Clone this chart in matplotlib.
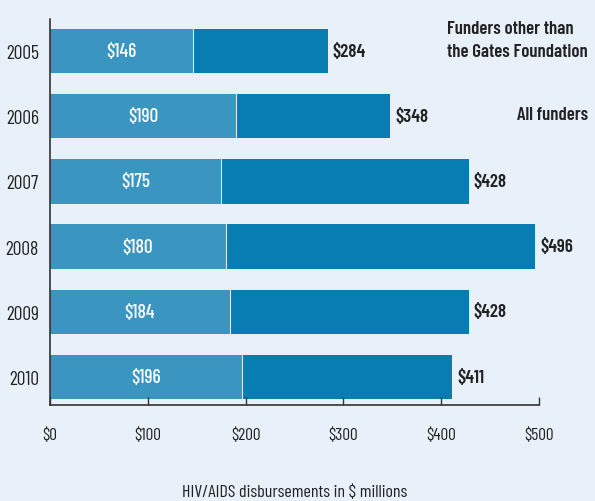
import numpy as np
import matplotlib.pyplot as plt
from matplotlib import font_manager

names = {f.name for f in font_manager.fontManager.ttflist}
fam = 'Barlow Condensed' if 'Barlow Condensed' in names else 'DejaVu Sans'
plt.rcParams['font.family'] = [fam, 'DejaVu Sans']
if fam == 'DejaVu Sans':
    plt.rcParams['font.stretch'] = 'condensed'

years = ['2005', '2006', '2007', '2008', '2009', '2010']
other_funders = [146, 190, 175, 180, 184, 196]
all_funders = [284, 348, 428, 496, 428, 411]

bg = '#e8f1f9'
light = '#3a95c1'
dark = '#077db1'
txt = '#222222'
fs = 14

fig = plt.figure(figsize=(5.95, 5.02), dpi=100, facecolor=bg)
ax = fig.add_axes([0.084, 0.191, 0.822, 0.769], facecolor=bg)

pos = np.arange(len(years))
h = 0.68
ax.barh(pos, all_funders, height=h, color=dark, edgecolor='none')
ax.barh(pos, other_funders, height=h, color=light, edgecolor='none')
for p, v in zip(pos, other_funders):
    ax.plot([v, v], [p - h / 2, p + h / 2], color='#d8e8f2', lw=0.8)
    ax.text(v / 2, p, '$%d' % v, color='white', ha='center', va='center', fontsize=fs, fontweight='medium')
for p, v in zip(pos, all_funders):
    ax.text(v + 5, p, '$%d' % v, color=txt, ha='left', va='center', fontsize=13.5, fontweight='semibold')

ax.set_xlim(0, 500)
ax.set_ylim(5.43, -0.49)
ax.set_yticks(pos)
ax.set_yticklabels(years, fontsize=fs, color=txt)
ax.tick_params(axis='y', length=0, pad=8)
ax.set_xticks(np.arange(0, 501, 100))
ax.set_xticklabels(['$%d' % t for t in range(0, 501, 100)], fontsize=12.5, color=txt)
ax.tick_params(axis='x', direction='in', length=6, width=1, color='#333333', pad=15)
for s in ['top', 'right']:
    ax.spines[s].set_visible(False)
for s in ['left', 'bottom']:
    ax.spines[s].set_color('#333333')
    ax.spines[s].set_linewidth(1.2)

ax.set_xlabel('HIV/AIDS disbursements in $ millions', fontsize=13, color=txt, labelpad=30)

fig.text(588 / 595, 1 - 41 / 502, 'Funders other than\nthe Gates Foundation', fontsize=13.5,
         fontweight='semibold', color=txt, va='center', ha='right', multialignment='left', linespacing=1.5)
fig.text(588 / 595, 1 - 115 / 502, 'All funders', fontsize=13.5, fontweight='semibold', color=txt, va='center', ha='right')

fig.savefig('out.png', dpi=100, facecolor=bg)
